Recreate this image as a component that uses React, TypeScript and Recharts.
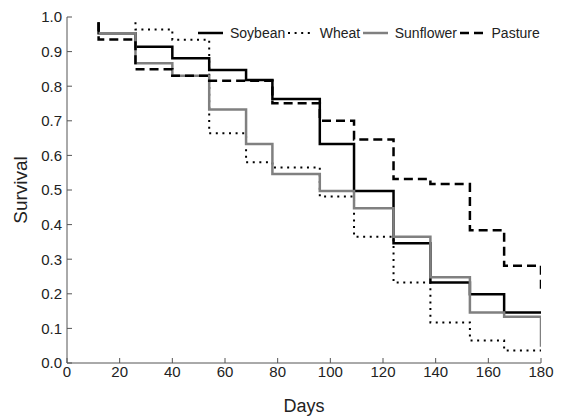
import React from 'react';
import { LineChart, Line, XAxis, YAxis, Legend } from 'recharts';

// Kaplan-Meier style survival steps (day at which value becomes the listed survival)
const soybeanDays = [12, 12, 26, 40, 54, 68, 78, 96, 109, 124, 138, 153, 166, 180];
const soybeanSurvival = [0.985, 0.953, 0.914, 0.881, 0.847, 0.818, 0.763, 0.633, 0.497, 0.346, 0.233, 0.199, 0.146, 0.146];

const wheatDays = [26, 26, 40, 54, 68, 78, 96, 109, 124, 138, 153, 166, 180];
const wheatSurvival = [0.985, 0.964, 0.934, 0.664, 0.58, 0.565, 0.481, 0.365, 0.233, 0.117, 0.065, 0.036, 0.036];

const sunflowerDays = [12, 26, 40, 54, 68, 78, 96, 109, 124, 138, 153, 166, 180];
const sunflowerSurvival = [0.953, 0.866, 0.83, 0.733, 0.633, 0.546, 0.497, 0.447, 0.365, 0.248, 0.146, 0.134, 0.047];

const pastureDays = [12, 12, 26, 40, 54, 78, 96, 109, 124, 138, 153, 166, 180];
const pastureSurvival = [0.985, 0.935, 0.849, 0.83, 0.816, 0.751, 0.7, 0.646, 0.532, 0.517, 0.384, 0.281, 0.211];

const xTicks = [0, 20, 40, 60, 80, 100, 120, 140, 160, 180];
const yTicks = [0, 0.1, 0.2, 0.3, 0.4, 0.5, 0.6, 0.7, 0.8, 0.9, 1.0];

const seriesNames = ['Soybean', 'Wheat', 'Sunflower', 'Pasture'];

const toPoints = (days: number[], vals: number[]) => days.map((d, i) => ({ day: d, value: vals[i] }));

const FONT = '"Liberation Sans", Arial, sans-serif';
const FRAME = '#555';

const series = [
  { name: seriesNames[0], data: toPoints(soybeanDays, soybeanSurvival), color: '#000000', dash: undefined as string | undefined, width: 2.5 },
  { name: seriesNames[1], data: toPoints(wheatDays, wheatSurvival), color: '#000000', dash: '2 4.6', width: 2 },
  { name: seriesNames[2], data: toPoints(sunflowerDays, sunflowerSurvival), color: '#808080', dash: undefined, width: 2.5 },
  { name: seriesNames[3], data: toPoints(pastureDays, pastureSurvival), color: '#000000', dash: '9 5', width: 2.5 },
];

const LegendContent = () => (
  <div style={{ display: 'flex', alignItems: 'center', fontFamily: FONT, fontSize: 14, color: '#222', whiteSpace: 'nowrap' }}>
    {series.map((s) => (
      <div key={s.name} style={{ display: 'flex', alignItems: 'center' }}>
        <svg width={25} height={8} style={{ display: 'block' }}>
          <line x1={0} y1={4} x2={25} y2={4} stroke={s.color} strokeWidth={s.width} strokeDasharray={s.dash} />
        </svg>
        <span style={{ marginLeft: 7, marginRight: 2.5 }}>{s.name}</span>
      </div>
    ))}
  </div>
);

const fmtY = (v: number) => v.toFixed(1);

export default function App() {
  return (
    <LineChart width={550} height={408} margin={{ top: 9, right: 17, bottom: 0, left: 0 }}>
      <XAxis
        type="number"
        dataKey="day"
        domain={[0, 180]}
        ticks={xTicks}
        allowDataOverflow
        height={53}
        tickSize={-5}
        tickMargin={8}
        axisLine={{ stroke: FRAME }}
        tickLine={{ stroke: FRAME }}
        tick={{ fill: '#222', fontSize: 15, fontFamily: FONT }}
        label={{ value: 'Days', position: 'insideBottom', offset: 4, fill: '#222', fontSize: 18, fontFamily: FONT }}
      />
      <XAxis
        xAxisId="top"
        orientation="top"
        type="number"
        domain={[0, 180]}
        ticks={xTicks}
        allowDataOverflow
        height={0}
        tickSize={-5}
        axisLine={{ stroke: FRAME }}
        tickLine={{ stroke: FRAME }}
        tick={() => <g />}
      />
      <YAxis
        type="number"
        domain={[0, 1]}
        ticks={yTicks}
        allowDataOverflow
        width={59}
        tickSize={-5}
        tickMargin={10}
        tickFormatter={fmtY}
        axisLine={{ stroke: FRAME }}
        tickLine={{ stroke: FRAME }}
        tick={{ fill: '#222', fontSize: 15, fontFamily: FONT }}
        label={{ value: 'Survival', angle: -90, position: 'insideLeft', offset: 12.5, fill: '#222', fontSize: 19, fontFamily: FONT, style: { textAnchor: 'middle' } }}
      />
      <YAxis
        yAxisId="right"
        orientation="right"
        type="number"
        domain={[0, 1]}
        ticks={yTicks}
        allowDataOverflow
        width={0}
        tickSize={-5}
        axisLine={{ stroke: FRAME }}
        tickLine={{ stroke: FRAME }}
        tick={() => <g />}
      />
      <Legend
        layout="horizontal"
        verticalAlign="middle"
        align="center"
        content={<LegendContent />}
        wrapperStyle={{ top: 17, left: 190, width: 'auto' }}
      />
      {series.map((s) => (
        <Line
          key={s.name}
          data={s.data}
          dataKey="value"
          name={s.name}
          type="stepAfter"
          stroke={s.color}
          strokeWidth={s.width}
          strokeDasharray={s.dash}
          dot={false}
          activeDot={false}
          isAnimationActive={false}
        />
      ))}
    </LineChart>
  );
}
